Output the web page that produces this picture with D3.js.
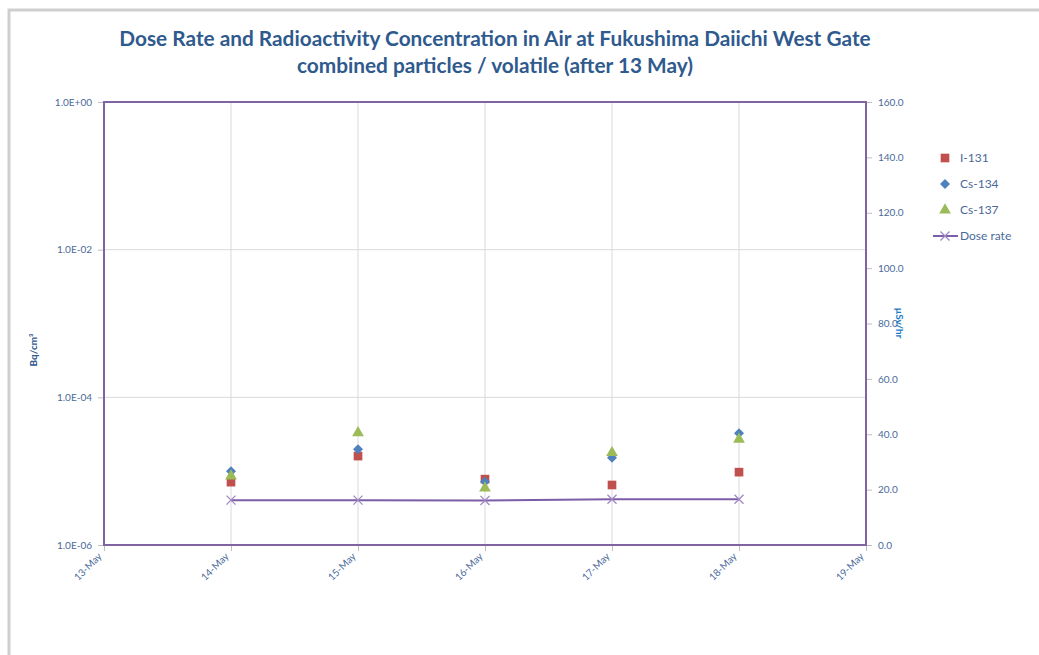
<!DOCTYPE html>
<html><head><meta charset="utf-8">
<script src="https://cdn.jsdelivr.net/npm/d3@7"></script>
<style>
body{margin:0;background:#fff;}
text{font-family:Lato,"Open Sans",sans-serif;}
</style></head>
<body><svg id="c" width="1039" height="655"></svg>
<script>
const dates = ["13-May","14-May","15-May","16-May","17-May","18-May","19-May"];
const dataDates = ["14-May","15-May","16-May","17-May","18-May"];
const i131 = [7.1e-6, 1.6e-5, 7.8e-6, 6.5e-6, 9.7e-6];
const cs134 = [1.0e-5, 1.98e-5, 7.2e-6, 1.52e-5, 3.26e-5];
const cs137 = [8.6e-6, 3.3e-5, 5.9e-6, 1.78e-5, 2.7e-5];
const doseRate = [16.2, 16.2, 16.1, 16.5, 16.5];
const leftTicks = [1e-6, 1e-4, 1e-2, 1e0];
const leftTickLabels = ["1.0E-06","1.0E-04","1.0E-02","1.0E+00"];
const rightTicks = [0,20,40,60,80,100,120,140,160];

const svg = d3.select("#c");
const L=104, R=866, T=102, B=545;
const tickColor = "#4a6a9a";
const purple = "#8064a2";

svg.append("path").attr("d","M9,655 V10 H1039").attr("fill","none").attr("stroke","#cfcfcf").attr("stroke-width",3);

const x = d3.scalePoint().domain(dates).range([L,R]);
const yL = d3.scaleLog().domain([1e-6,1]).range([B,T]);
const yR = d3.scaleLinear().domain([0,160]).range([B,T]);

const g = svg.append("g");
g.selectAll(".vg").data(dates).join("line")
 .attr("x1",d=>x(d)).attr("x2",d=>x(d)).attr("y1",T).attr("y2",B)
 .attr("stroke","#d9d9d9").attr("stroke-width",1);
g.selectAll(".hg").data(leftTicks).join("line")
 .attr("x1",L).attr("x2",R).attr("y1",d=>yL(d)).attr("y2",d=>yL(d))
 .attr("stroke","#d9d9d9").attr("stroke-width",1);

const axL = svg.append("g").attr("transform",`translate(${L},0)`)
 .call(d3.axisLeft(yL).tickValues(leftTicks).tickFormat((d,i)=>leftTickLabels[i]).tickSize(6).tickPadding(6));
const axR = svg.append("g").attr("transform",`translate(${R},0)`)
 .call(d3.axisRight(yR).tickValues(rightTicks).tickFormat(d3.format(".1f")).tickSize(6).tickPadding(6));
const axB = svg.append("g").attr("transform",`translate(0,${B})`)
 .call(d3.axisBottom(x).tickSize(6));
[axL,axR,axB].forEach(a=>{
  a.select(".domain").remove();
  a.selectAll(".tick line").attr("stroke","#bfbfbf");
  a.selectAll(".tick text").attr("fill",tickColor).style("font-size","10px").style("font-family","Lato,sans-serif");
});
axB.selectAll(".tick text").attr("text-anchor","end").attr("dy",null).attr("y",0)
 .attr("transform","translate(-2,12) rotate(-45)");

svg.append("rect").attr("x",L).attr("y",T).attr("width",R-L).attr("height",B-T)
 .attr("fill","none").attr("stroke",purple).attr("stroke-width",2);

const line = d3.line().x((d,i)=>x(dataDates[i])).y(d=>yR(d));
svg.append("path").datum(doseRate).attr("d",line).attr("fill","none").attr("stroke","#7b5ea7").attr("stroke-width",2);
const xm = d3.symbol().type(d3.symbolX).size(55);
svg.selectAll(".dm").data(doseRate).join("path")
 .attr("transform",(d,i)=>`translate(${x(dataDates[i])},${yR(d)})`)
 .attr("d",xm).attr("fill","none").attr("stroke","#9e88c4").attr("stroke-width",1.3);

const sq = d3.symbol().type(d3.symbolSquare).size(75);
const di = d3.symbol().type(d3.symbolSquare).size(50);
const tr = d3.symbol().type(d3.symbolTriangle).size(60);
function series(vals, sym, col, rot){
  svg.append("g").selectAll("path").data(vals).join("path")
   .attr("transform",(d,i)=>`translate(${x(dataDates[i])},${yL(d)}) rotate(${rot})`)
   .attr("d",sym).attr("fill",col);
}
series(i131, sq, "#c0504d", 0);
series(cs134, di, "#4f81bd", 45);
series(cs137, tr, "#9bbb59", 0);

svg.append("text").attr("x",495).attr("y",46).attr("text-anchor","middle")
 .attr("fill","#2f5a8e").style("font-size","20.8px").style("font-weight","bold")
 .text("Dose Rate and Radioactivity Concentration in Air at Fukushima Daiichi West Gate");
svg.append("text").attr("x",495).attr("y",73).attr("text-anchor","middle")
 .attr("fill","#2f5a8e").style("font-size","20.8px").style("font-weight","bold")
 .text("combined particles / volatile (after 13 May)");

svg.append("text").attr("transform","translate(37,350) rotate(-90)").attr("text-anchor","middle")
 .attr("fill","#2f5a8e").style("font-size","10px").style("font-weight","bold").text("Bq/cm³");
svg.append("text").attr("transform","translate(896,323) rotate(90)").attr("text-anchor","middle")
 .attr("fill","#1f7ac8").style("font-size","10px").style("font-weight","bold").text("µSv/hr");

const leg = svg.append("g");
const items = [["I-131",sq,"#c0504d",0],["Cs-134",di,"#4f81bd",45],["Cs-137",tr,"#9bbb59",0]];
items.forEach((it,i)=>{
  const yy = 158 + i*26;
  leg.append("path").attr("transform",`translate(945,${yy}) rotate(${it[3]})`).attr("d",it[1]).attr("fill",it[2]);
  leg.append("text").attr("x",960).attr("y",yy+4).attr("fill",tickColor).style("font-size","12px").text(it[0]);
});
leg.append("line").attr("x1",933).attr("x2",958).attr("y1",236).attr("y2",236).attr("stroke","#7b5ea7").attr("stroke-width",2);
leg.append("path").attr("transform","translate(945,236)").attr("d",xm).attr("fill","none").attr("stroke","#9e88c4").attr("stroke-width",1.3);
leg.append("text").attr("x",960).attr("y",240).attr("fill",tickColor).style("font-size","12px").text("Dose rate");
</script></body></html>
